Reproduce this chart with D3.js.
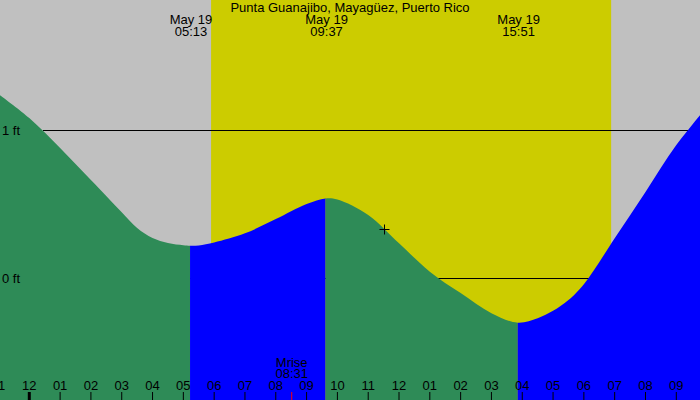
<!DOCTYPE html>
<html>
<head>
<meta charset="utf-8">
<script src="https://cdn.jsdelivr.net/npm/d3@7"></script>
<style>
  html, body { margin: 0; padding: 0; background: #c0c0c0; }
  svg { display: block; }
  text { font-family: "Liberation Sans", Arial, sans-serif; font-size: 13px; fill: #000; }
</style>
</head>
<body>
<svg id="chart" width="700" height="400"></svg>
<script>
// ---- data (hours from midnight, May 19) ----
const title = "Punta Guanajibo, Mayagüez, Puerto Rico";
const tideHours   = [-1, 0, 1, 2, 3, 3.5, 4, 4.5, 5, 5.217, 5.5, 6, 7, 8, 9, 9.617, 10, 11, 12, 13, 14, 15, 15.85, 16.5, 17, 17.5, 18, 19, 20, 21, 22];
const tideHeights = [1.245, 1.083, 0.88, 0.664, 0.446, 0.34, 0.272, 0.238, 0.223, 0.22, 0.222, 0.242, 0.304, 0.40, 0.502, 0.54, 0.532, 0.428, 0.236, 0.045, -0.10, -0.236, -0.30, -0.27, -0.22, -0.147, -0.04, 0.27, 0.583, 0.90, 1.16];
const extremeHours = [5.217, 9.617, 15.85];
const extremeDates = ["May 19", "May 19", "May 19"];
const extremeTimes = ["05:13", "09:37", "15:51"];
const segmentBounds = [-2, 5.217, 9.617, 15.85, 23];
const segmentColors = ["#2e8b57", "#0000ff", "#2e8b57", "#0000ff"];
const daylight = [5.9, 18.885];            // sunrise, sunset
const levelValues = [1, 0];
const levelLabels = ["1 ft", "0 ft"];
const tickHours  = [-1, 0, 1, 2, 3, 4, 5, 6, 7, 8, 9, 10, 11, 12, 13, 14, 15, 16, 17, 18, 19, 20, 21];
const tickLabels = ["11","12","01","02","03","04","05","06","07","08","09","10","11","12","01","02","03","04","05","06","07","08","09"];
const moonrise = { hour: 8.517, label: "Mrise", time: "08:31" };
const nowMark = { hour: 11.5, height: 0.335 };

// ---- scales ----
const W = 700, H = 400;
const x = d3.scaleLinear().domain([0, 21]).range([29.3, 676.3]);
const y = d3.scaleLinear().domain([0, 1]).range([278.3, 130.3]);

const svg = d3.select("#chart");

// background
svg.append("rect").attr("width", W).attr("height", H).attr("fill", "#c0c0c0");
// daylight
svg.append("rect")
  .attr("x", x(daylight[0])).attr("y", 0)
  .attr("width", x(daylight[1]) - x(daylight[0])).attr("height", H)
  .attr("fill", "#cccc00");

// level lines
svg.selectAll("line.level").data(levelValues).join("line")
  .attr("class", "level")
  .attr("x1", 43).attr("x2", W)
  .attr("y1", d => Math.floor(y(d)) + 0.5).attr("y2", d => Math.floor(y(d)) + 0.5)
  .attr("stroke", "#000").attr("stroke-width", 1);

// tide area segments
const tide = tideHours.map((h, i) => [h, tideHeights[i]]);
const area = d3.area()
  .x(d => x(d[0])).y0(H).y1(d => y(d[1]))
  .curve(d3.curveCatmullRom.alpha(0.5));
const defs = svg.append("defs");
segmentColors.forEach((c, i) => {
  defs.append("clipPath").attr("id", "seg" + i)
    .append("rect")
    .attr("x", x(segmentBounds[i])).attr("y", 0)
    .attr("width", x(segmentBounds[i + 1]) - x(segmentBounds[i])).attr("height", H);
  svg.append("path").datum(tide)
    .attr("d", area).attr("fill", c)
    .attr("clip-path", `url(#seg${i})`);
});

// level labels
svg.selectAll("text.level").data(levelValues).join("text")
  .attr("class", "level")
  .attr("x", 2).attr("y", d => y(d) + 4.5)
  .text((d, i) => levelLabels[i]);

// title
svg.append("text").attr("x", 350).attr("y", 12).attr("text-anchor", "middle").text(title);

// extremes labels
extremeHours.forEach((h, i) => {
  svg.append("text").attr("x", x(h) + 1).attr("y", 24).attr("text-anchor", "middle").text(extremeDates[i]);
  svg.append("text").attr("x", x(h) + 1).attr("y", 35.5).attr("text-anchor", "middle").text(extremeTimes[i]);
});

// now marker
const mx = Math.round(x(nowMark.hour)) + 0.5, my = Math.round(y(nowMark.height)) + 0.5;
svg.append("path")
  .attr("d", `M${mx - 5},${my}H${mx + 5}M${mx},${my - 5}V${my + 5}`)
  .attr("stroke", "#000").attr("stroke-width", 1).attr("fill", "none");

// axis ticks and labels
svg.selectAll("line.tick").data(tickHours).join("line")
  .attr("class", "tick")
  .attr("x1", d => x(d)).attr("x2", d => x(d))
  .attr("y1", 392).attr("y2", H)
  .attr("stroke", "#000")
  .attr("stroke-width", d => d === 0 ? 3 : 1);
svg.selectAll("text.tick").data(tickHours).join("text")
  .attr("class", "tick")
  .attr("x", d => x(d)).attr("y", 389.5)
  .attr("text-anchor", "middle")
  .text((d, i) => tickLabels[i]);

// moonrise
svg.append("line")
  .attr("x1", x(moonrise.hour)).attr("x2", x(moonrise.hour))
  .attr("y1", 392).attr("y2", H)
  .attr("stroke", "#ff0000").attr("stroke-width", 1);
svg.append("text").attr("x", x(moonrise.hour)).attr("y", 366.5).attr("text-anchor", "middle").text(moonrise.label);
svg.append("text").attr("x", x(moonrise.hour)).attr("y", 378).attr("text-anchor", "middle").text(moonrise.time);
</script>
</body>
</html>
